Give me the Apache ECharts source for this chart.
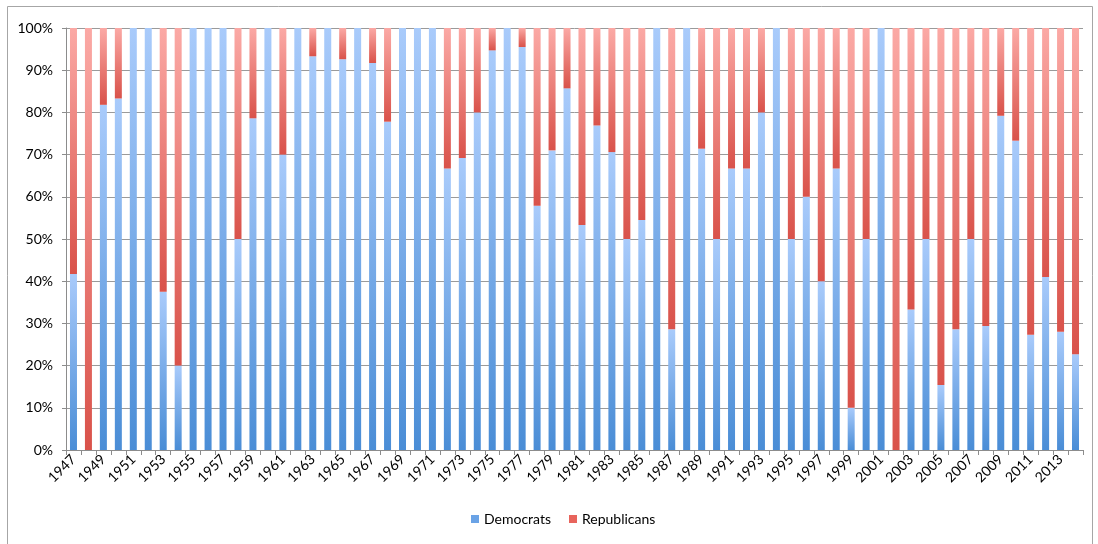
<!DOCTYPE html>
<html>
<head>
<meta charset="utf-8">
<script src="https://cdn.jsdelivr.net/npm/echarts@6/dist/echarts.min.js"></script>
<style>
html,body{margin:0;padding:0;background:#fff;}
#chart{width:1098px;height:544px;}
</style>
</head>
<body>
<div id="chart"></div>
<script>
var years = ['1947','1948','1949','1950','1951','1952','1953','1954','1955','1956','1957','1958','1959','1960','1961','1962','1963','1964','1965','1966','1967','1968','1969','1970','1971','1972','1973','1974','1975','1976','1977','1978','1979','1980','1981','1982','1983','1984','1985','1986','1987','1988','1989','1990','1991','1992','1993','1994','1995','1996','1997','1998','1999','2000','2001','2002','2003','2004','2005','2006','2007','2008','2009','2010','2011','2012','2013','2014'];

var democrats = [41.7,0,81.8,83.3,100,100,37.5,20,100,100,100,50,78.6,100,70,100,93.3,100,92.6,100,91.7,77.8,100,100,100,66.7,69.2,80,94.7,100,95.5,57.9,71,85.7,53.3,76.9,70.6,50,54.5,100,28.6,100,71.4,50,66.7,66.7,80,100,50,60,40,66.7,10,50,100,0,33.3,50,15.4,28.6,50,29.4,79.2,73.3,27.3,41,28,22.7];

var republicans = [58.3,100,18.2,16.7,0,0,62.5,80,0,0,0,50,21.4,0,30,0,6.7,0,7.4,0,8.3,22.2,0,0,0,33.3,30.8,20,5.3,0,4.5,42.1,29,14.3,46.7,23.1,29.4,50,45.5,0,71.4,0,28.6,50,33.3,33.3,20,0,50,40,60,33.3,90,50,0,100,66.7,50,84.6,71.4,50,70.6,20.8,26.7,72.7,59,72,77.3];

var seriesNames = ['Democrats','Republicans'];

var blueGrad = new echarts.graphic.LinearGradient(0,0,0,1,[
  {offset:0,color:'#a9cbfb'},{offset:1,color:'#4a8dd6'}]);
var redGrad = new echarts.graphic.LinearGradient(0,0,0,1,[
  {offset:0,color:'#fba9a5'},{offset:1,color:'#d9524a'}]);

var chart = echarts.init(document.getElementById('chart'));
var font = 'Lato, "Open Sans", sans-serif';
chart.setOption({
  animation:false,
  backgroundColor:'#ffffff',
  textStyle:{fontFamily:font},
  graphic:[{
    type:'rect', silent:true, z:-10,
    shape:{x:7.5,y:6.5,width:1085,height:560},
    style:{fill:'none',stroke:'#a6a6a6',lineWidth:1}
  }],
  grid:{left:66,right:15,top:28,bottom:94,containLabel:false},
  legend:{
    data:[
      {name:seriesNames[0],itemStyle:{color:'#6aa3e6'}},
      {name:seriesNames[1],itemStyle:{color:'#e8645c'}}
    ],
    bottom:13, left:466,
    icon:'rect', itemWidth:8, itemHeight:8, itemGap:18,
    textStyle:{fontSize:14,color:'#000',fontFamily:font}
  },
  xAxis:{
    type:'category',
    data:years,
    boundaryGap:true,
    axisLine:{lineStyle:{color:'#8c8c8c',width:1}},
    axisTick:{show:true,interval:0,length:5,lineStyle:{color:'#8c8c8c'}},
    axisLabel:{interval:1,rotate:45,fontSize:14,color:'#000',margin:7,fontFamily:font}
  },
  yAxis:{
    type:'value',
    min:0,max:100,interval:10,
    axisLine:{show:true,lineStyle:{color:'#8c8c8c'}},
    axisTick:{show:true,length:4,lineStyle:{color:'#8c8c8c'}},
    axisLabel:{formatter:'{value}%',fontSize:14,color:'#000',margin:13,fontFamily:font},
    splitLine:{lineStyle:{color:'#9a9a9a',width:1}}
  },
  series:[
    {name:seriesNames[0],type:'bar',stack:'total',data:democrats,barWidth:7,
     itemStyle:{color:blueGrad}},
    {name:seriesNames[1],type:'bar',stack:'total',data:republicans,barWidth:7,
     itemStyle:{color:redGrad}}
  ]
});
</script>
</body>
</html>
